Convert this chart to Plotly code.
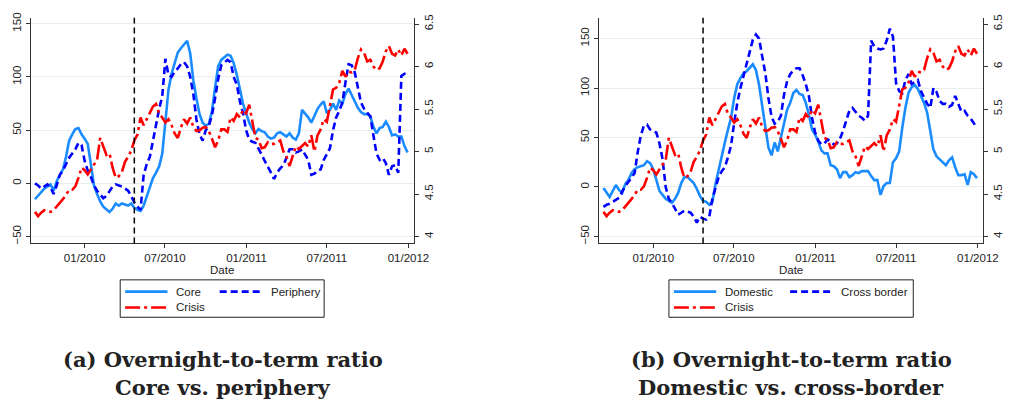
import pandas as pd
import plotly.graph_objects as go

START_DATE = "2009-09-11"
N_WEEKS = 121
dates = pd.date_range(START_DATE, periods=N_WEEKS, freq="7D")
CRISIS_DATE = "2010-04-23"

x_tick_dates = ["2010-01-01", "2010-07-01", "2011-01-01", "2011-07-01", "2012-01-01"]
x_tick_labels = ["01/2010", "07/2010", "01/2011", "07/2011", "01/2012"]
left_ticks = [-50, 0, 50, 100, 150]
right_ticks = [4, 4.5, 5, 5.5, 6, 6.5]
right_tick_labels = ["4", "4.5", "5", "5.5", "6", "6.5"]

core = [
    -15, -12, -8, -5, -3, -1, -7, 2, 8, 13,
    25, 40, 46, 51, 52, 46, 42, 37, 18, -2,
    -10, -17, -22, -25, -27, -24, -19, -21, -19, -20,
    -21, -19, -23, -25, -26, -21, -12, -2, 5, 10,
    16, 28, 62, 88, 103, 114, 123, 127, 131, 134,
    122, 97, 80, 65, 57, 54, 56, 68, 90, 110,
    116, 119, 121, 120, 113, 102, 88, 75, 66, 57,
    51, 47, 51, 49, 48, 44, 42, 43, 47, 48,
    46, 44, 47, 43, 41, 47, 69, 66, 62, 57,
    64, 70, 74, 77, 66, 69, 75, 69, 78, 75,
    84, 89, 83, 77, 71, 67, 65, 65, 63, 53,
    47, 52, 53, 58, 53, 45, 46, 44, 44, 35, 29,
]

periphery = [
    0, -2, -5, -3, -1, -4, -10, -2, 8, 12,
    18, 24, 28, 32, 38, 36, 21, 12, 6, -2,
    -7, -11, -14, -12, -8, -3, -1, -2, -3, -5,
    -7, -12, -18, -22, -25, 8, 18, 25, 42, 55,
    70, 82, 117, 102, 100, 105, 108, 112, 114, 110,
    100, 84, 60, 46, 40, 50, 54, 64, 80, 98,
    111, 114, 116, 114, 100, 93, 77, 66, 50, 41,
    39, 38, 33, 27, 21, 16, 10, 4, 10, 14,
    17, 24, 32, 32, 29, 30, 32, 27, 22, 8,
    9, 12, 13, 22, 27, 33, 50, 62, 68, 76,
    95, 112, 111, 104, 90, 76, 70, 67, 63, 45,
    28, 22, 24, 19, 8, 16, 17, 10, 101, 103, 103,
]

crisis = [
    4.29, 4.24, 4.28, 4.31, 4.30, 4.29, 4.31, 4.35, 4.40, 4.44,
    4.49, 4.55, 4.55, 4.59, 4.69, 4.81, 4.78, 4.73, 4.79, 4.85,
    4.90, 5.16, 5.06, 4.96, 4.98, 4.81, 4.69, 4.71, 4.76, 4.88,
    4.94, 5.01, 5.13, 5.20, 5.40, 5.31, 5.38, 5.46, 5.53, 5.56,
    5.44, 5.40, 5.34, 5.38, 5.31, 5.21, 5.16, 5.28, 5.38, 5.33,
    5.40, 5.29, 5.24, 5.25, 5.28, 5.29, 5.24, 5.15, 5.05, 5.13,
    5.26, 5.26, 5.23, 5.40, 5.36, 5.44, 5.40, 5.49, 5.45, 5.55,
    5.35, 5.16, 5.14, 5.04, 5.05, 5.11, 5.09, 5.09, 5.11, 5.13,
    5.00, 4.94, 4.83, 4.96, 5.06, 5.03, 5.06, 5.10, 5.06, 5.19,
    5.00, 5.19, 5.26, 5.38, 5.35, 5.56, 5.73, 5.75, 5.81, 5.95,
    5.88, 5.94, 5.93, 5.96, 6.10, 6.20, 6.16, 6.06, 6.08, 6.00,
    5.96, 5.98, 6.06, 6.18, 6.24, 6.15, 6.13, 6.20, 6.13, 6.21, 6.15,
]

domestic = [
    -1, -6, -10, -4, 2, -3, -6, 3, 7, 14,
    18, 20, 21, 22, 26, 24, 18, 8, -4, -8,
    -12, -14, -16, -12, -6, 4, 10, 10, 7, 4,
    -2, -9, -14, -15, -18, -15, 3, 18, 32, 45,
    58, 70, 90, 104, 110, 115, 117, 120, 124, 118,
    103, 82, 59, 40, 32, 45, 36, 50, 67, 78,
    85, 95, 98, 94, 93, 85, 73, 58, 53, 46,
    37, 34, 34, 22, 21, 18, 9, 15, 15, 10,
    12, 15, 14, 16, 16, 16, 11, 7, 7, -8,
    1, 4, 4, 25, 29, 36, 60, 80, 95, 101,
    103, 99, 92, 85, 75, 58, 38, 31, 28, 25,
    22, 27, 30, 20, 12, 12, 13, 2, 15, 13, 9,
]

cross_border = [
    -20, -18, -17, -15, -13, -11, -5, 1, 5, 9,
    14, 35, 52, 62, 63, 58, 56, 55, 44, 28,
    0, -12, -16, -22, -28, -26, -24, -25, -26, -30,
    -36, -30, -32, -33, -30, -12, 0, 10, 16, 20,
    30, 42, 65, 85, 100, 112, 125, 138, 149, 154,
    150, 132, 115, 90, 71, 64, 66, 72, 93, 107,
    114, 118, 120, 120, 113, 104, 92, 70, 55, 47,
    43, 44, 48, 46, 43, 44, 49, 57, 68, 77,
    80, 76, 72, 70, 67, 72, 148, 142, 140, 139,
    140, 148, 160, 152, 105, 97, 95, 108, 114, 104,
    106, 108, 97, 90, 84, 80, 100, 96, 87, 84,
    84, 81, 83, 92, 84, 76, 77, 72, 69, 64, 60,
]

# ---------------- styling ----------------
W, H = 1013, 403
FONT = "Liberation Sans, Arial, Helvetica, sans-serif"
SERIF = "DejaVu Serif, serif"
C_LIGHT = "#1a8cff"
C_BLUE = "#0000ff"
C_RED = "#ff0000"
AXIS_COL = "#333333"
GRID_COL = "#e6eef0"
LW = 2.6
DASH_BLUE = "7px,4px"
DASH_RED = "15px,4px,3px,4px"


def px(x):
    return x / W


def py(y):
    return 1 - y / H


Y_DOMAIN = [py(242), py(13)]
X_RANGE = ["2009-09-01", "2012-01-13"]
RIGHT_RANGE = [3.919, 6.573]

fig = go.Figure()

panels = [
    dict(x="x", yl="y", yr="y2", a=core, b=periphery, na="Core", nb="Periphery"),
    dict(x="x2", yl="y3", yr="y4", a=domestic, b=cross_border, na="Domestic", nb="Cross border"),
]
for p in panels:
    fig.add_trace(go.Scatter(x=dates, y=p["a"], name=p["na"], mode="lines",
                             line=dict(color=C_LIGHT, width=LW),
                             xaxis=p["x"], yaxis=p["yl"], showlegend=False))
    fig.add_trace(go.Scatter(x=dates, y=p["b"], name=p["nb"], mode="lines",
                             line=dict(color=C_BLUE, width=LW, dash=DASH_BLUE),
                             xaxis=p["x"], yaxis=p["yl"], showlegend=False))
    fig.add_trace(go.Scatter(x=dates, y=crisis, name="Crisis", mode="lines",
                             line=dict(color=C_RED, width=LW, dash=DASH_RED),
                             xaxis=p["x"], yaxis=p["yr"], showlegend=False))

tickfont = dict(family=FONT, size=11.5, color="#222222")


def xaxis(domain, anchor):
    return dict(domain=domain, anchor=anchor, range=X_RANGE, type="date",
                tickvals=x_tick_dates, ticktext=x_tick_labels,
                ticks="outside", ticklen=4, tickcolor=AXIS_COL, tickwidth=1,
                showline=True, linecolor=AXIS_COL, linewidth=1,
                showgrid=False, zeroline=False, tickfont=tickfont,
                title=dict(text="Date", font=tickfont, standoff=0))


def yleft(rng, anchor):
    return dict(domain=Y_DOMAIN, anchor=anchor, range=rng,
                tickvals=left_ticks, tickangle=-90,
                ticks="outside", ticklen=4, tickcolor=AXIS_COL, tickwidth=1,
                showline=True, linecolor=AXIS_COL, linewidth=1,
                showgrid=True, gridcolor=GRID_COL, gridwidth=1,
                zeroline=False, tickfont=tickfont)


def yright(overlay, anchor):
    return dict(overlaying=overlay, anchor=anchor, side="right", range=RIGHT_RANGE,
                tickvals=right_ticks, ticktext=right_tick_labels, tickangle=-90,
                ticks="outside", ticklen=4, tickcolor=AXIS_COL, tickwidth=1,
                showline=True, linecolor=AXIS_COL, linewidth=1,
                showgrid=False, zeroline=False, tickfont=tickfont)


fig.update_layout(
    width=W, height=H,
    margin=dict(l=0, r=0, t=0, b=0),
    paper_bgcolor="white", plot_bgcolor="white",
    showlegend=False,
    xaxis=xaxis([px(31), px(420)], "y"),
    yaxis=yleft([-56.5, 155.6], "x"),
    yaxis2=yright("y", "x"),
    xaxis2=xaxis([px(608), px(998)], "y3"),
    yaxis3=yleft([-57, 171], "x2"),
    yaxis4=yright("y3", "x2"),
)

# crisis onset marker
for xr, yr in [("x", "y domain"), ("x2", "y3 domain")]:
    fig.add_shape(type="line", xref=xr, yref=yr, x0=CRISIS_DATE, x1=CRISIS_DATE,
                  y0=0, y1=1, line=dict(color="black", width=1.5, dash="6px,4px"))

# ---------------- legends (drawn boxes) ----------------
legends = [
    dict(box=(122, 329), items=[("Core", C_LIGHT, "solid", 127, 291),
                                ("Periphery", C_BLUE, DASH_BLUE, 223, 291),
                                ("Crisis", C_RED, DASH_RED, 127, 307)]),
    dict(box=(679, 927), items=[("Domestic", C_LIGHT, "solid", 684, 291),
                                ("Cross border", C_BLUE, DASH_BLUE, 802, 291),
                                ("Crisis", C_RED, DASH_RED, 684, 307)]),
]
for lg in legends:
    x0, x1 = lg["box"]
    fig.add_shape(type="rect", xref="paper", yref="paper",
                  x0=px(x0), x1=px(x1), y0=py(317), y1=py(279),
                  line=dict(color="#222222", width=1), fillcolor="white", layer="above")
    for name, col, dash, lx, ly in lg["items"]:
        fig.add_shape(type="line", xref="paper", yref="paper",
                      x0=px(lx), x1=px(lx + 43), y0=py(ly), y1=py(ly),
                      line=dict(color=col, width=LW, dash=dash), layer="above")
        fig.add_annotation(x=px(lx + 50), y=py(ly), xref="paper", yref="paper",
                           text=name, showarrow=False, xanchor="left", yanchor="middle",
                           font=dict(family=FONT, size=11.5, color="#222222"))

# ---------------- captions ----------------
captions = [
    (226, "(a) Overnight-to-term ratio", "Core vs. periphery"),
    (803, "(b) Overnight-to-term ratio", "Domestic vs. cross-border"),
]
for cx, l1, l2 in captions:
    for text, cy in [(l1, 360), (l2, 388)]:
        fig.add_annotation(x=px(cx), y=py(cy), xref="paper", yref="paper",
                           text="<b>" + text + "</b>", showarrow=False,
                           xanchor="center", yanchor="middle",
                           font=dict(family=SERIF, size=21, color="#222222"))

fig.write_html("out.html")
